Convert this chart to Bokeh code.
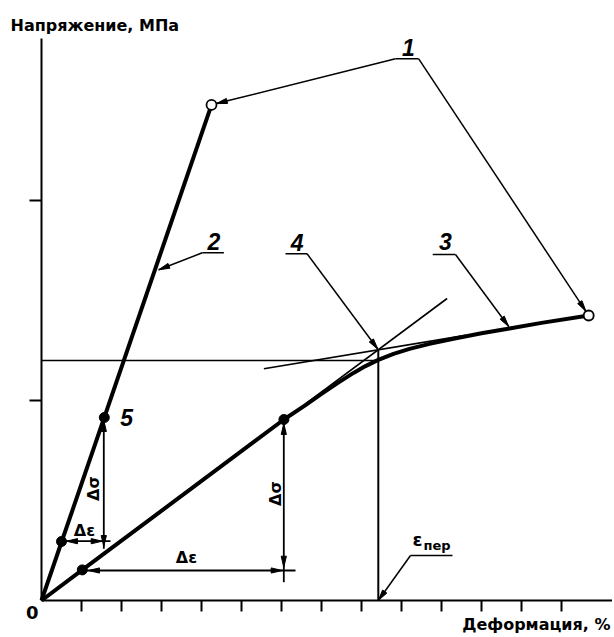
import math
from bokeh.plotting import figure
from bokeh.models import Label, FixedTicker
from bokeh.embed import file_html
from bokeh.resources import INLINE

# ---------------- data (strain and stress in tick units) ----------------
x_ticks = list(range(1, 14))
y_ticks = [1, 2]
x_axis_end = 14.3
y_axis_end = 2.81

# curve 2 : elastic (initial) line
elastic_x = [0.0, 4.25]
elastic_y = [0.0, 2.478]
elastic_pts_x = [0.50, 1.57]
elastic_pts_y = [0.295, 0.915]

# curve 3 : stress-strain curve
curve_x = [0.0, 1.02, 6.06, 6.6, 7.0, 7.4, 7.8, 8.1, 8.42, 8.8, 9.2, 9.7, 10.3, 11.0, 11.7, 12.5, 13.68]
curve_y = [0.0, 0.153, 0.905, 0.977, 1.033, 1.087, 1.138, 1.172, 1.203, 1.233, 1.258, 1.283,
           1.309, 1.336, 1.36, 1.388, 1.425]
curve_pts_x = [1.02, 6.06]
curve_pts_y = [0.153, 0.905]

# end points (open circles)
end_x = [4.25, 13.68]
end_y = [2.478, 1.425]

# construction lines
tangent1_x = [0.0, 10.14]
tangent1_y = [0.0, 1.51]
tangent2_x = [5.56, 10.6]
tangent2_y = [1.1585, 1.3258]
eps_transition = 8.42
sigma_transition = 1.20
tangent_cross_y = 1.2535

# leaders: tail x, tail y, tip x, tip y
leader_tail_x = [8.85, 9.43, 4.02, 6.64, 10.35, 9.225]
leader_tail_y = [2.7085, 2.7085, 1.7385, 1.7335, 1.73, 0.225]
leader_tip_x = [4.37, 13.61, 2.93, 8.41, 11.68, 8.42]
leader_tip_y = [2.4845, 1.446, 1.6535, 1.256, 1.37, 0.0]

# label underlines: x0, x1, y
underline_x0 = [8.85, 4.02, 6.10, 9.78, 9.225]
underline_x1 = [9.43, 4.56, 6.64, 10.35, 10.275]
underline_y = [2.7085, 1.7385, 1.7335, 1.73, 0.225]

# numbered labels
num_text = ["1", "2", "4", "3", "5"]
num_x = [9.175, 4.31, 6.39, 10.1, 2.13]
num_y = [2.7675, 1.797, 1.792, 1.797, 0.9175]

# Δ measurement lines
dsig_x = [1.5575, 6.0575]
dsig_top = [0.9165, 0.9085]
dsig_bot = [0.2585, 0.0915]
dsig_tip_top = [0.90, 0.885]
dsig_tip_bot = [0.27, 0.1665]
deps_y = [0.2965, 0.15]
deps_left = [0.49, 1.02]
deps_right = [1.725, 6.35]
deps_tip_left = [0.625, 1.175]
deps_tip_right = [1.5175, 6.0175]
dsig_label_x = [1.2875, 5.85]
dsig_label_y = [0.56, 0.535]
deps_label_x = [1.075, 3.625]
deps_label_y = [0.352, 0.215]

# ---------------- figure ----------------
W, H = 612, 635
OX, OY = 41, 600          # pixel position of the origin
SX, SY = 40.0, 200.0      # pixels per unit

p = figure(width=W, height=H,
           x_range=(-OX / SX, (W - OX) / SX), y_range=((OY - H) / SY, OY / SY),
           output_backend="svg", toolbar_location=None,
           min_border_left=0, min_border_bottom=0, min_border_top=0, min_border_right=0)
p.outline_line_color = None
p.grid.visible = False
p.background_fill_color = "white"
p.border_fill_color = "white"

for ax, ticks, tout, bnd in ((p.xaxis, x_ticks, 11, (0, x_axis_end)),
                             (p.yaxis, y_ticks, 12, (0, y_axis_end))):
    ax.fixed_location = 0
    ax.bounds = bnd
    ax.ticker = FixedTicker(ticks=ticks, minor_ticks=[])
    ax.axis_line_width = 2
    ax.axis_line_color = "black"
    ax.major_tick_line_width = 2
    ax.major_tick_line_color = "black"
    ax.major_tick_in = 0
    ax.major_tick_out = tout
    ax.minor_tick_line_color = None
    ax.major_label_overrides = {t: "" for t in ticks}

FONT = "DejaVu Sans"
NUM_FONT = "Liberation Sans"


def head(tx, ty, hx, hy, length=11.0, half=2.6):
    dx = (hx - tx) * SX
    dy = (hy - ty) * SY
    L = math.hypot(dx, dy)
    ux, uy = dx / L, dy / L
    bx, by = -ux * length, -uy * length
    px, py = -uy * half, ux * half
    return ([hx, hx + (bx + px) / SX, hx + (bx - px) / SX],
            [hy, hy + (by + py) / SY, hy + (by - py) / SY])


heads_x, heads_y = [], []


def add_head(tx, ty, hx, hy):
    hxs, hys = head(tx, ty, hx, hy)
    heads_x.append(hxs)
    heads_y.append(hys)


# construction lines
p.line(tangent1_x, tangent1_y, line_width=1.6, color="black")
p.line(tangent2_x, tangent2_y, line_width=1.6, color="black")
p.line([0, eps_transition], [sigma_transition, sigma_transition], line_width=1.5, color="black")
p.line([eps_transition, eps_transition], [0, tangent_cross_y], line_width=2, color="black")

# main curves
p.line(elastic_x, elastic_y, line_width=4, color="black", line_join="round")
p.line(curve_x, curve_y, line_width=4, color="black", line_join="round")

# leaders
for tx, ty, hx, hy in zip(leader_tail_x, leader_tail_y, leader_tip_x, leader_tip_y):
    p.line([tx, hx], [ty, hy], line_width=1.5, color="black")
    add_head(tx, ty, hx, hy)
for x0, x1, y in zip(underline_x0, underline_x1, underline_y):
    p.line([x0, x1], [y, y], line_width=1.5, color="black")

# Δ measurement lines
for i in range(2):
    x = dsig_x[i]
    p.line([x, x], [dsig_top[i], dsig_bot[i]], line_width=1.8, color="black")
    add_head(x, dsig_bot[i], x, dsig_tip_top[i])
    add_head(x, dsig_top[i], x, dsig_tip_bot[i])
    y = deps_y[i]
    p.line([deps_left[i], deps_right[i]], [y, y], line_width=1.8, color="black")
    add_head(deps_right[i], y, deps_tip_left[i], y)
    add_head(deps_left[i], y, deps_tip_right[i], y)

p.patches(heads_x, heads_y, fill_color="black", line_color="black", line_width=1)

# points
p.scatter(elastic_pts_x, elastic_pts_y, size=10, color="black")
p.scatter(curve_pts_x, curve_pts_y, size=10, color="black")
p.scatter(end_x, end_y, size=10, fill_color="white", line_color="black", line_width=1.8)


def label(x, y, text, size, font=FONT, style="bold", align="center", angle=0.0):
    p.add_layout(Label(x=x, y=y, text=text, text_font=font, text_font_size=size,
                       text_font_style=style, text_align=align, text_baseline="middle",
                       angle=angle, text_color="black"))


# texts
for t, x, y in zip(num_text, num_x, num_y):
    label(x, y, t, "23px", font=NUM_FONT, style="bold italic")
for x, y in zip(dsig_label_x, dsig_label_y):
    label(x, y, "Δσ", "16px", angle=math.pi / 2)
for x, y in zip(deps_label_x, deps_label_y):
    label(x, y, "Δε", "16px")

label(9.275, 0.305, "ε", "18px", align="left")
label(9.55, 0.275, "пер", "13px", align="left")
label(-0.2325, -0.0575, "0", "18px")
label(-0.775, 2.8775, "Напряжение, МПа", "16px", align="left")
label(14.225, -0.12, "Деформация, %", "16px", align="right")

open("out.html", "w").write(file_html(p, INLINE))
